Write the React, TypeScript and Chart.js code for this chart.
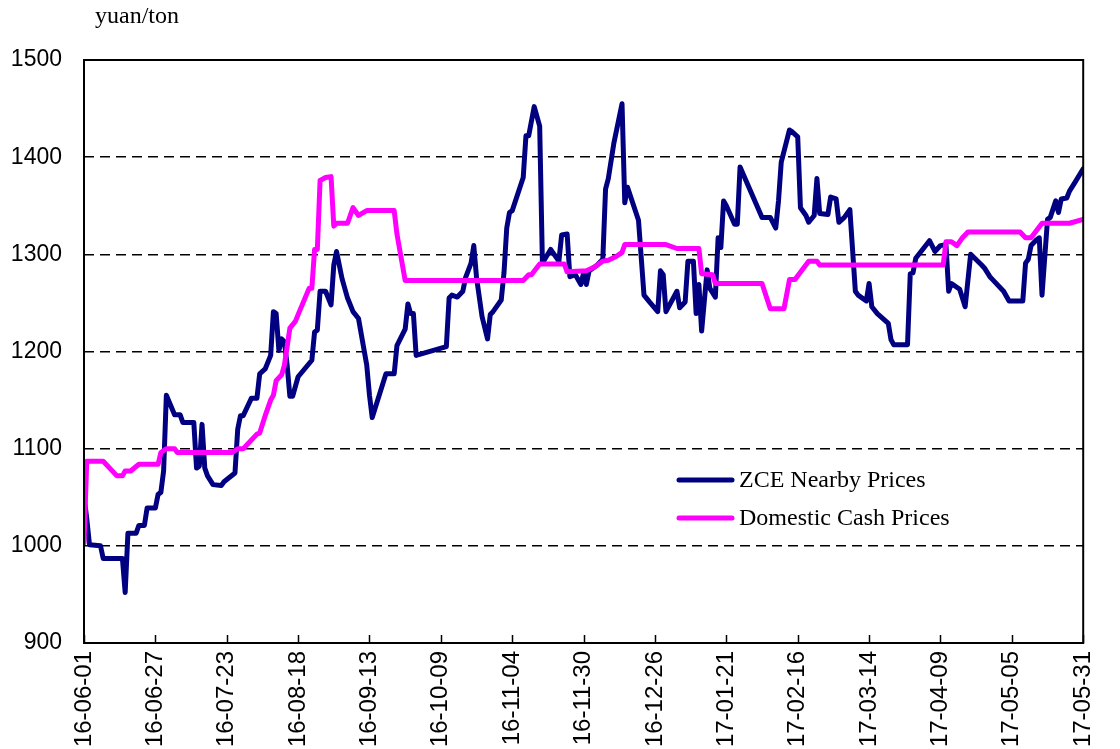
import React, { useEffect, useRef } from 'react';
import { Chart, registerables } from 'chart.js';

Chart.register(...registerables);

// ---------- data ----------
const startYear = 2016;
const startMonth = 6;
const startDay = 1;

const tickLabels = [
  '16-06-01', '16-06-27', '16-07-23', '16-08-18', '16-09-13', '16-10-09', '16-11-04', '16-11-30',
  '16-12-26', '17-01-21', '17-02-16', '17-03-14', '17-04-09', '17-05-05', '17-05-31',
];

const yTicks = [900, 1000, 1100, 1200, 1300, 1400, 1500];

const seriesNames = ['ZCE Nearby Prices', 'Domestic Cash Prices'];

// days since 2016-06-01
const zceDays = [
  0, 1, 2, 6, 7, 14, 15, 16, 19, 20, 22, 23, 26, 27, 28, 29, 30, 33, 35, 36, 40, 41, 42, 43, 44, 45, 47, 50, 51,
  55, 56, 57, 58, 61, 63, 64, 66, 68, 69, 70, 71, 72, 73, 74, 75, 76, 78, 83, 84, 85, 86, 88, 90, 91, 92, 94, 96,
  98, 100, 103, 104, 105, 110, 113, 114, 117, 118, 119, 120, 121, 132, 133, 134, 136, 138, 139, 141, 142, 143,
  145, 147, 148, 149, 152, 153, 154, 155, 156, 160, 161, 162, 164, 166, 167, 170, 173, 174, 176, 177, 179, 181,
  182, 183, 184, 187, 189, 190, 191, 193, 196, 197, 198, 202, 204, 206, 209, 210, 211, 212, 216, 217, 219, 220,
  222, 223, 224, 225, 227, 228, 230, 231, 232, 233, 234, 237, 238, 239, 247, 250, 252, 253, 254, 257, 258, 260,
  261, 263, 264, 266, 267, 268, 271, 272, 274, 275, 277, 279, 281, 282, 285, 286, 287, 289, 293, 294, 295, 300,
  301, 302, 303, 308, 310, 312, 314, 315, 316, 319, 321, 323, 327, 328, 330, 331, 335, 337, 342, 343, 344, 345,
  347, 348, 349, 351, 352, 354, 355, 356, 358, 359, 361, 364,
];
const zcePrices = [
  1051, 1028, 1001, 1000, 987, 987, 952, 1013, 1013, 1021, 1021, 1039, 1039, 1053, 1055, 1077, 1155, 1135, 1135,
  1127, 1127, 1080, 1082, 1125, 1080, 1072, 1063, 1062, 1066, 1075, 1120, 1134, 1134, 1152, 1152, 1177, 1182,
  1196, 1241, 1239, 1201, 1213, 1210, 1186, 1154, 1154, 1174, 1191, 1220, 1222, 1262, 1262, 1248, 1289, 1303,
  1275, 1255, 1241, 1234, 1186, 1155, 1132, 1177, 1177, 1206, 1223, 1249, 1239, 1239, 1196, 1205, 1255, 1258,
  1256, 1262, 1276, 1291, 1309, 1276, 1236, 1213, 1238, 1241, 1253, 1281, 1327, 1343, 1345, 1379, 1422, 1422,
  1452, 1432, 1291, 1305, 1293, 1320, 1321, 1277, 1279, 1269, 1281, 1269, 1283, 1289, 1295, 1367, 1378, 1414,
  1455, 1353, 1369, 1335, 1258, 1251, 1241, 1283, 1279, 1241, 1262, 1245, 1251, 1293, 1293, 1239, 1269, 1221,
  1284, 1265, 1256, 1317, 1307, 1355, 1350, 1331, 1331, 1390, 1338, 1338, 1327, 1355, 1395, 1428, 1426, 1421,
  1348, 1340, 1333, 1340, 1378, 1342, 1341, 1359, 1357, 1333, 1338, 1346, 1262, 1258, 1252, 1270, 1246, 1239,
  1229, 1212, 1207, 1207, 1280, 1281, 1296, 1314, 1303, 1309, 1310, 1262, 1270, 1264, 1246, 1300, 1289, 1286,
  1277, 1274, 1262, 1252, 1252, 1291, 1295, 1309, 1315, 1317, 1258, 1336, 1338, 1355, 1343, 1357, 1358, 1365,
  1374, 1388,
];

const cashDays = [
  0, 1, 7, 12, 14, 15, 17, 20, 27, 28, 30, 33, 34, 54, 56, 58, 63, 64, 66, 68, 69, 70, 72, 73, 75, 77, 78, 82,
  83, 84, 85, 86, 88, 90, 91, 92, 96, 98, 100, 103, 113, 114, 117, 160, 162, 163, 166, 175, 176, 183, 186, 187,
  189, 191, 194, 196, 197, 212, 216, 224, 225, 229, 230, 247, 250, 255, 257, 259, 264, 267, 268, 313, 314, 316,
  318, 320, 322, 341, 343, 345, 349, 359, 364,
];
const cashPrices = [
  1003, 1087, 1087, 1072, 1072, 1077, 1077, 1084, 1084, 1096, 1100, 1100, 1096, 1096, 1100, 1100, 1115, 1116,
  1134, 1150, 1155, 1170, 1176, 1186, 1224, 1231, 1238, 1265, 1265, 1305, 1305, 1376, 1379, 1380, 1329, 1332,
  1332, 1348, 1340, 1345, 1345, 1321, 1273, 1273, 1279, 1279, 1290, 1290, 1282, 1283, 1287, 1289, 1293, 1294,
  1298, 1302, 1310, 1310, 1306, 1306, 1280, 1279, 1270, 1270, 1244, 1244, 1274, 1274, 1293, 1293, 1289, 1289,
  1313, 1313, 1309, 1317, 1323, 1323, 1317, 1317, 1332, 1332, 1336,
];

// ---------- helpers ----------
const DAY_MS = 86400000;
const startMs = Date.UTC(startYear, startMonth - 1, startDay);
const labelToDay = (l: string) => {
  const [yy, mm, dd] = l.split('-').map(Number);
  return Math.round((Date.UTC(2000 + yy, mm - 1, dd) - startMs) / DAY_MS);
};
const pad2 = (n: number) => String(n).padStart(2, '0');
const dayToLabel = (d: number) => {
  const dt = new Date(startMs + Math.round(d) * DAY_MS);
  return `${pad2(dt.getUTCFullYear() % 100)}-${pad2(dt.getUTCMonth() + 1)}-${pad2(dt.getUTCDate())}`;
};
const tickDays = tickLabels.map(labelToDay);

const NAVY = '#000080';
const MAGENTA = '#FF00FF';
const SANS = '"Liberation Sans", Arial, sans-serif';
const SERIF = '"Liberation Serif", "Times New Roman", serif';

const decorPlugin = {
  id: 'decor',
  afterDatasetsDraw(chart: any) {
    const { ctx, chartArea } = chart;
    const { left, right, top, bottom } = chartArea;
    ctx.save();
    // frame
    ctx.strokeStyle = '#000';
    ctx.lineWidth = 2;
    ctx.setLineDash([]);
    ctx.strokeRect(left, top, right - left, bottom - top);
    // inward tick marks on x axis
    const xs = chart.scales.x;
    ctx.lineWidth = 1.5;
    xs.ticks.forEach((t: any) => {
      const px = Math.round(xs.getPixelForValue(t.value)) + 0.5;
      ctx.beginPath();
      ctx.moveTo(px, bottom);
      ctx.lineTo(px, bottom - 8);
      ctx.stroke();
    });
    // legend
    const items = [
      { name: seriesNames[0], color: NAVY, y: 480 },
      { name: seriesNames[1], color: MAGENTA, y: 518 },
    ];
    ctx.font = `24px ${SERIF}`;
    ctx.textBaseline = 'middle';
    ctx.textAlign = 'left';
    items.forEach((it) => {
      ctx.strokeStyle = it.color;
      ctx.lineWidth = 5;
      ctx.lineCap = 'round';
      ctx.beginPath();
      ctx.moveTo(679, it.y);
      ctx.lineTo(732, it.y);
      ctx.stroke();
      ctx.fillStyle = '#000';
      ctx.fillText(it.name, 739, it.y + 1);
    });
    // unit label
    ctx.font = `24px ${SERIF}`;
    ctx.textBaseline = 'alphabetic';
    ctx.fillText('yuan/ton', 95, 23);
    ctx.restore();
  },
};

export default function App() {
  const canvasRef = useRef<HTMLCanvasElement | null>(null);

  useEffect(() => {
    if (!canvasRef.current) return;
    const chart = new Chart(canvasRef.current, {
      type: 'line',
      data: {
        datasets: [
          {
            label: seriesNames[0],
            data: zceDays.map((d, i) => ({ x: d, y: zcePrices[i] })),
            borderColor: NAVY,
            backgroundColor: NAVY,
            borderWidth: 5,
            pointRadius: 0,
            tension: 0,
            borderJoinStyle: 'round',
            borderCapStyle: 'round',
            order: 1,
          },
          {
            label: seriesNames[1],
            data: cashDays.map((d, i) => ({ x: d, y: cashPrices[i] })),
            borderColor: MAGENTA,
            backgroundColor: MAGENTA,
            borderWidth: 5,
            pointRadius: 0,
            tension: 0,
            borderJoinStyle: 'round',
            borderCapStyle: 'round',
            order: 0,
          },
        ],
      },
      options: {
        animation: false,
        responsive: false,
        devicePixelRatio: 1,
        layout: { padding: { top: 60, right: 20, left: 0, bottom: 0 } },
        plugins: {
          legend: { display: false },
          tooltip: { enabled: false },
          title: { display: false },
        },
        scales: {
          x: {
            type: 'linear',
            min: tickDays[0],
            max: tickDays[tickDays.length - 1],
            afterBuildTicks: (scale: any) => {
              scale.ticks = tickDays.map((v) => ({ value: v }));
            },
            afterFit: (scale: any) => {
              scale.height = 106;
            },
            grid: { display: false, drawTicks: false },
            border: { display: false },
            ticks: {
              autoSkip: false,
              minRotation: 90,
              maxRotation: 90,
              padding: 8,
              color: '#000',
              font: { family: SANS, size: 24 },
              callback: (v: any) => dayToLabel(Number(v)),
            },
          },
          y: {
            type: 'linear',
            min: yTicks[0],
            max: yTicks[yTicks.length - 1],
            afterBuildTicks: (scale: any) => {
              scale.ticks = yTicks.map((v) => ({ value: v }));
            },
            afterFit: (scale: any) => {
              scale.width = 84;
            },
            grid: {
              drawTicks: false,
              lineWidth: 1.5,
              color: (c: any) =>
                c.tick && (c.tick.value === yTicks[0] || c.tick.value === yTicks[yTicks.length - 1])
                  ? 'rgba(0,0,0,0)'
                  : '#000',
            },
            border: { display: false, dash: [10, 6] },
            ticks: {
              padding: 22,
              color: '#000',
              font: { family: SANS, size: 23 },
              callback: (v: any) => String(v),
            },
          },
        },
      },
      plugins: [decorPlugin],
    });
    return () => chart.destroy();
  }, []);

  return (
    <div style={{ position: 'absolute', left: 0, top: 0, width: 1120, height: 749, background: '#fff' }}>
      <canvas ref={canvasRef} width={1120} height={749} />
    </div>
  );
}
